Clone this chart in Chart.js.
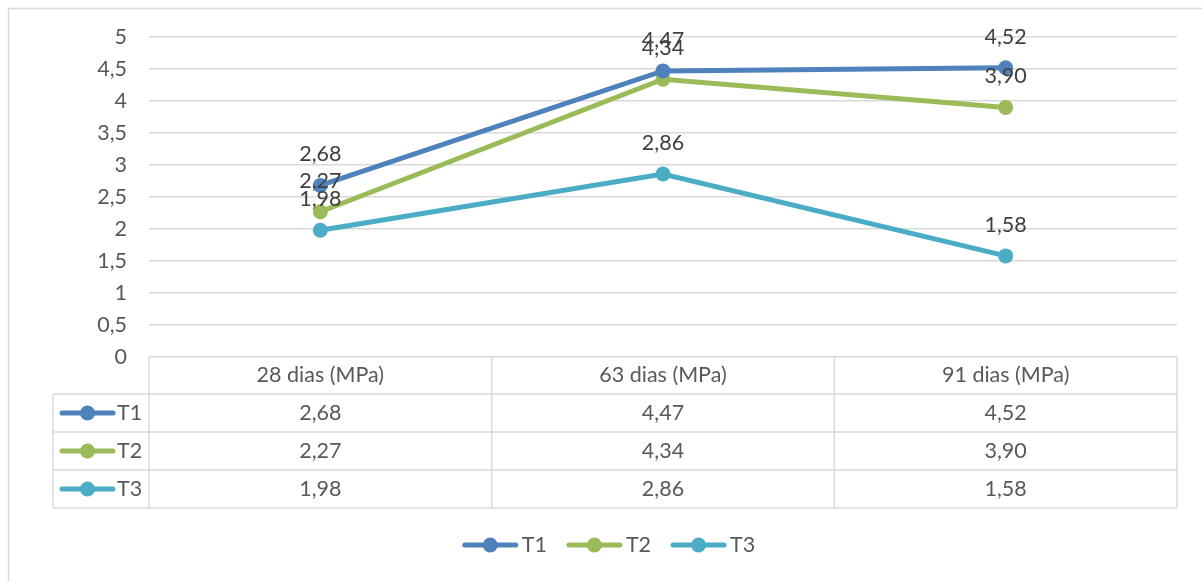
<!DOCTYPE html>
<html>
<head>
<meta charset="utf-8">
<script src="https://cdn.jsdelivr.net/npm/chart.js@4/dist/chart.umd.min.js"></script>
<style>
  html, body { margin: 0; padding: 0; background: #fff; }
  #wrap { width: 1202px; height: 581px; position: relative; }
</style>
</head>
<body>
<div id="wrap"><canvas id="c"></canvas></div>
<script>
// dados do gráfico
const categories = ['28 dias (MPa)', '63 dias (MPa)', '91 dias (MPa)'];
const seriesNames = ['T1', 'T2', 'T3'];
const t1Values = [2.68, 4.47, 4.52];
const t2Values = [2.27, 4.34, 3.90];
const t3Values = [1.98, 2.86, 1.58];
const seriesColors = ['#4f81bd', '#9bbb59', '#4bacc6'];

const FONT = 'Lato, "Open Sans", sans-serif';
const FSIZE = 21.5;
const fmt = v => v.toFixed(2).replace('.', ',');

// símbolo de legenda: linha + círculo
function drawSymbol(ctx, x, y, color) {
  ctx.save();
  ctx.strokeStyle = color;
  ctx.lineWidth = 5;
  ctx.lineCap = 'round';
  ctx.beginPath();
  ctx.moveTo(x + 2, y);
  ctx.lineTo(x + 53, y);
  ctx.stroke();
  ctx.fillStyle = color;
  ctx.beginPath();
  ctx.arc(x + 27.5, y, 7.5, 0, Math.PI * 2);
  ctx.fill();
  ctx.restore();
}

const tablePlugin = {
  id: 'tablePlugin',
  beforeDraw(chart) {
    const ctx = chart.ctx;
    ctx.save();
    ctx.strokeStyle = '#d9d9d9';
    ctx.lineWidth = 1.5;
    ctx.strokeRect(8.5, 8.5, 1210, 590);
    ctx.restore();
  },
  afterDatasetsDraw(chart) {
    const ctx = chart.ctx;
    const x = chart.scales.x;
    const area = chart.chartArea;
    const rowH = 38;
    const top = area.bottom;
    const headerBottom = top + 37;
    const tableBottom = headerBottom + rowH * seriesNames.length;
    const legendLeft = 53;

    // rótulos de dados
    ctx.save();
    ctx.font = FSIZE + 'px ' + FONT;
    ctx.fillStyle = '#404040';
    ctx.textAlign = 'center';
    ctx.textBaseline = 'middle';
    chart.data.datasets.forEach((ds, i) => {
      const meta = chart.getDatasetMeta(i);
      meta.data.forEach((pt, j) => {
        ctx.fillText(fmt(ds.data[j]), pt.x, pt.y - 31);
      });
    });
    ctx.restore();

    // tabela de dados
    ctx.save();
    ctx.strokeStyle = '#d9d9d9';
    ctx.lineWidth = 1.5;
    ctx.beginPath();
    ctx.moveTo(legendLeft, headerBottom); ctx.lineTo(area.right, headerBottom);
    for (let r = 1; r <= seriesNames.length; r++) {
      const y = headerBottom + rowH * r;
      ctx.moveTo(legendLeft, y); ctx.lineTo(area.right, y);
    }
    ctx.moveTo(area.left, top); ctx.lineTo(area.left, tableBottom);
    ctx.moveTo(legendLeft, headerBottom); ctx.lineTo(legendLeft, tableBottom);
    const colW = (area.right - area.left) / categories.length;
    for (let c = 1; c <= categories.length; c++) {
      const xx = area.left + colW * c;
      ctx.moveTo(xx, top); ctx.lineTo(xx, tableBottom);
    }
    ctx.stroke();

    ctx.font = FSIZE + 'px ' + FONT;
    ctx.fillStyle = '#595959';
    ctx.textBaseline = 'middle';
    ctx.textAlign = 'center';
    categories.forEach((cat, j) => {
      ctx.fillText(cat, x.getPixelForValue(j), (top + headerBottom) / 2);
    });
    chart.data.datasets.forEach((ds, i) => {
      const cy = headerBottom + rowH * i + rowH / 2;
      drawSymbol(ctx, 60, cy, seriesColors[i]);
      ctx.textAlign = 'left';
      ctx.fillText(seriesNames[i], 117, cy);
      ctx.textAlign = 'center';
      ds.data.forEach((v, j) => {
        ctx.fillText(fmt(v), x.getPixelForValue(j), cy);
      });
    });

    // legenda inferior
    const legendY = 545;
    const widths = seriesNames.map(n => 55 + 4 + ctx.measureText(n).width);
    const gap = 20;
    const total = widths.reduce((a, b) => a + b, 0) + gap * (widths.length - 1);
    let lx = 609 - total / 2;
    ctx.textAlign = 'left';
    seriesNames.forEach((n, i) => {
      drawSymbol(ctx, lx, legendY, seriesColors[i]);
      ctx.fillText(n, lx + 59, legendY);
      lx += widths[i] + gap;
    });
    ctx.restore();
  }
};

new Chart(document.getElementById('c'), {
  type: 'line',
  data: {
    labels: categories,
    datasets: [t1Values, t2Values, t3Values].map((vals, i) => ({
      label: seriesNames[i],
      data: vals,
      borderColor: seriesColors[i],
      backgroundColor: seriesColors[i],
      pointBackgroundColor: seriesColors[i],
      pointBorderWidth: 0,
      pointRadius: 7.5,
      borderWidth: 5,
      tension: 0
    }))
  },
  options: {
    responsive: true,
    maintainAspectRatio: false,
    animation: false,
    events: [],
    layout: { padding: { top: 37, right: 25, bottom: 224, left: 0 } },
    plugins: {
      legend: { display: false },
      tooltip: { enabled: false }
    },
    scales: {
      x: {
        offset: true,
        grid: { display: false },
        border: { display: false },
        ticks: { display: false },
        afterFit: s => { s.height = 0; }
      },
      y: {
        min: 0,
        max: 5,
        afterFit: s => { s.width = 149; },
        border: { display: false },
        grid: { color: '#d9d9d9', lineWidth: 1.5, drawTicks: false },
        ticks: {
          stepSize: 0.5,
          padding: 22,
          color: '#595959',
          font: { family: FONT, size: FSIZE },
          callback: v => String(v).replace('.', ',')
        }
      }
    }
  },
  plugins: [tablePlugin]
});
</script>
</body>
</html>
